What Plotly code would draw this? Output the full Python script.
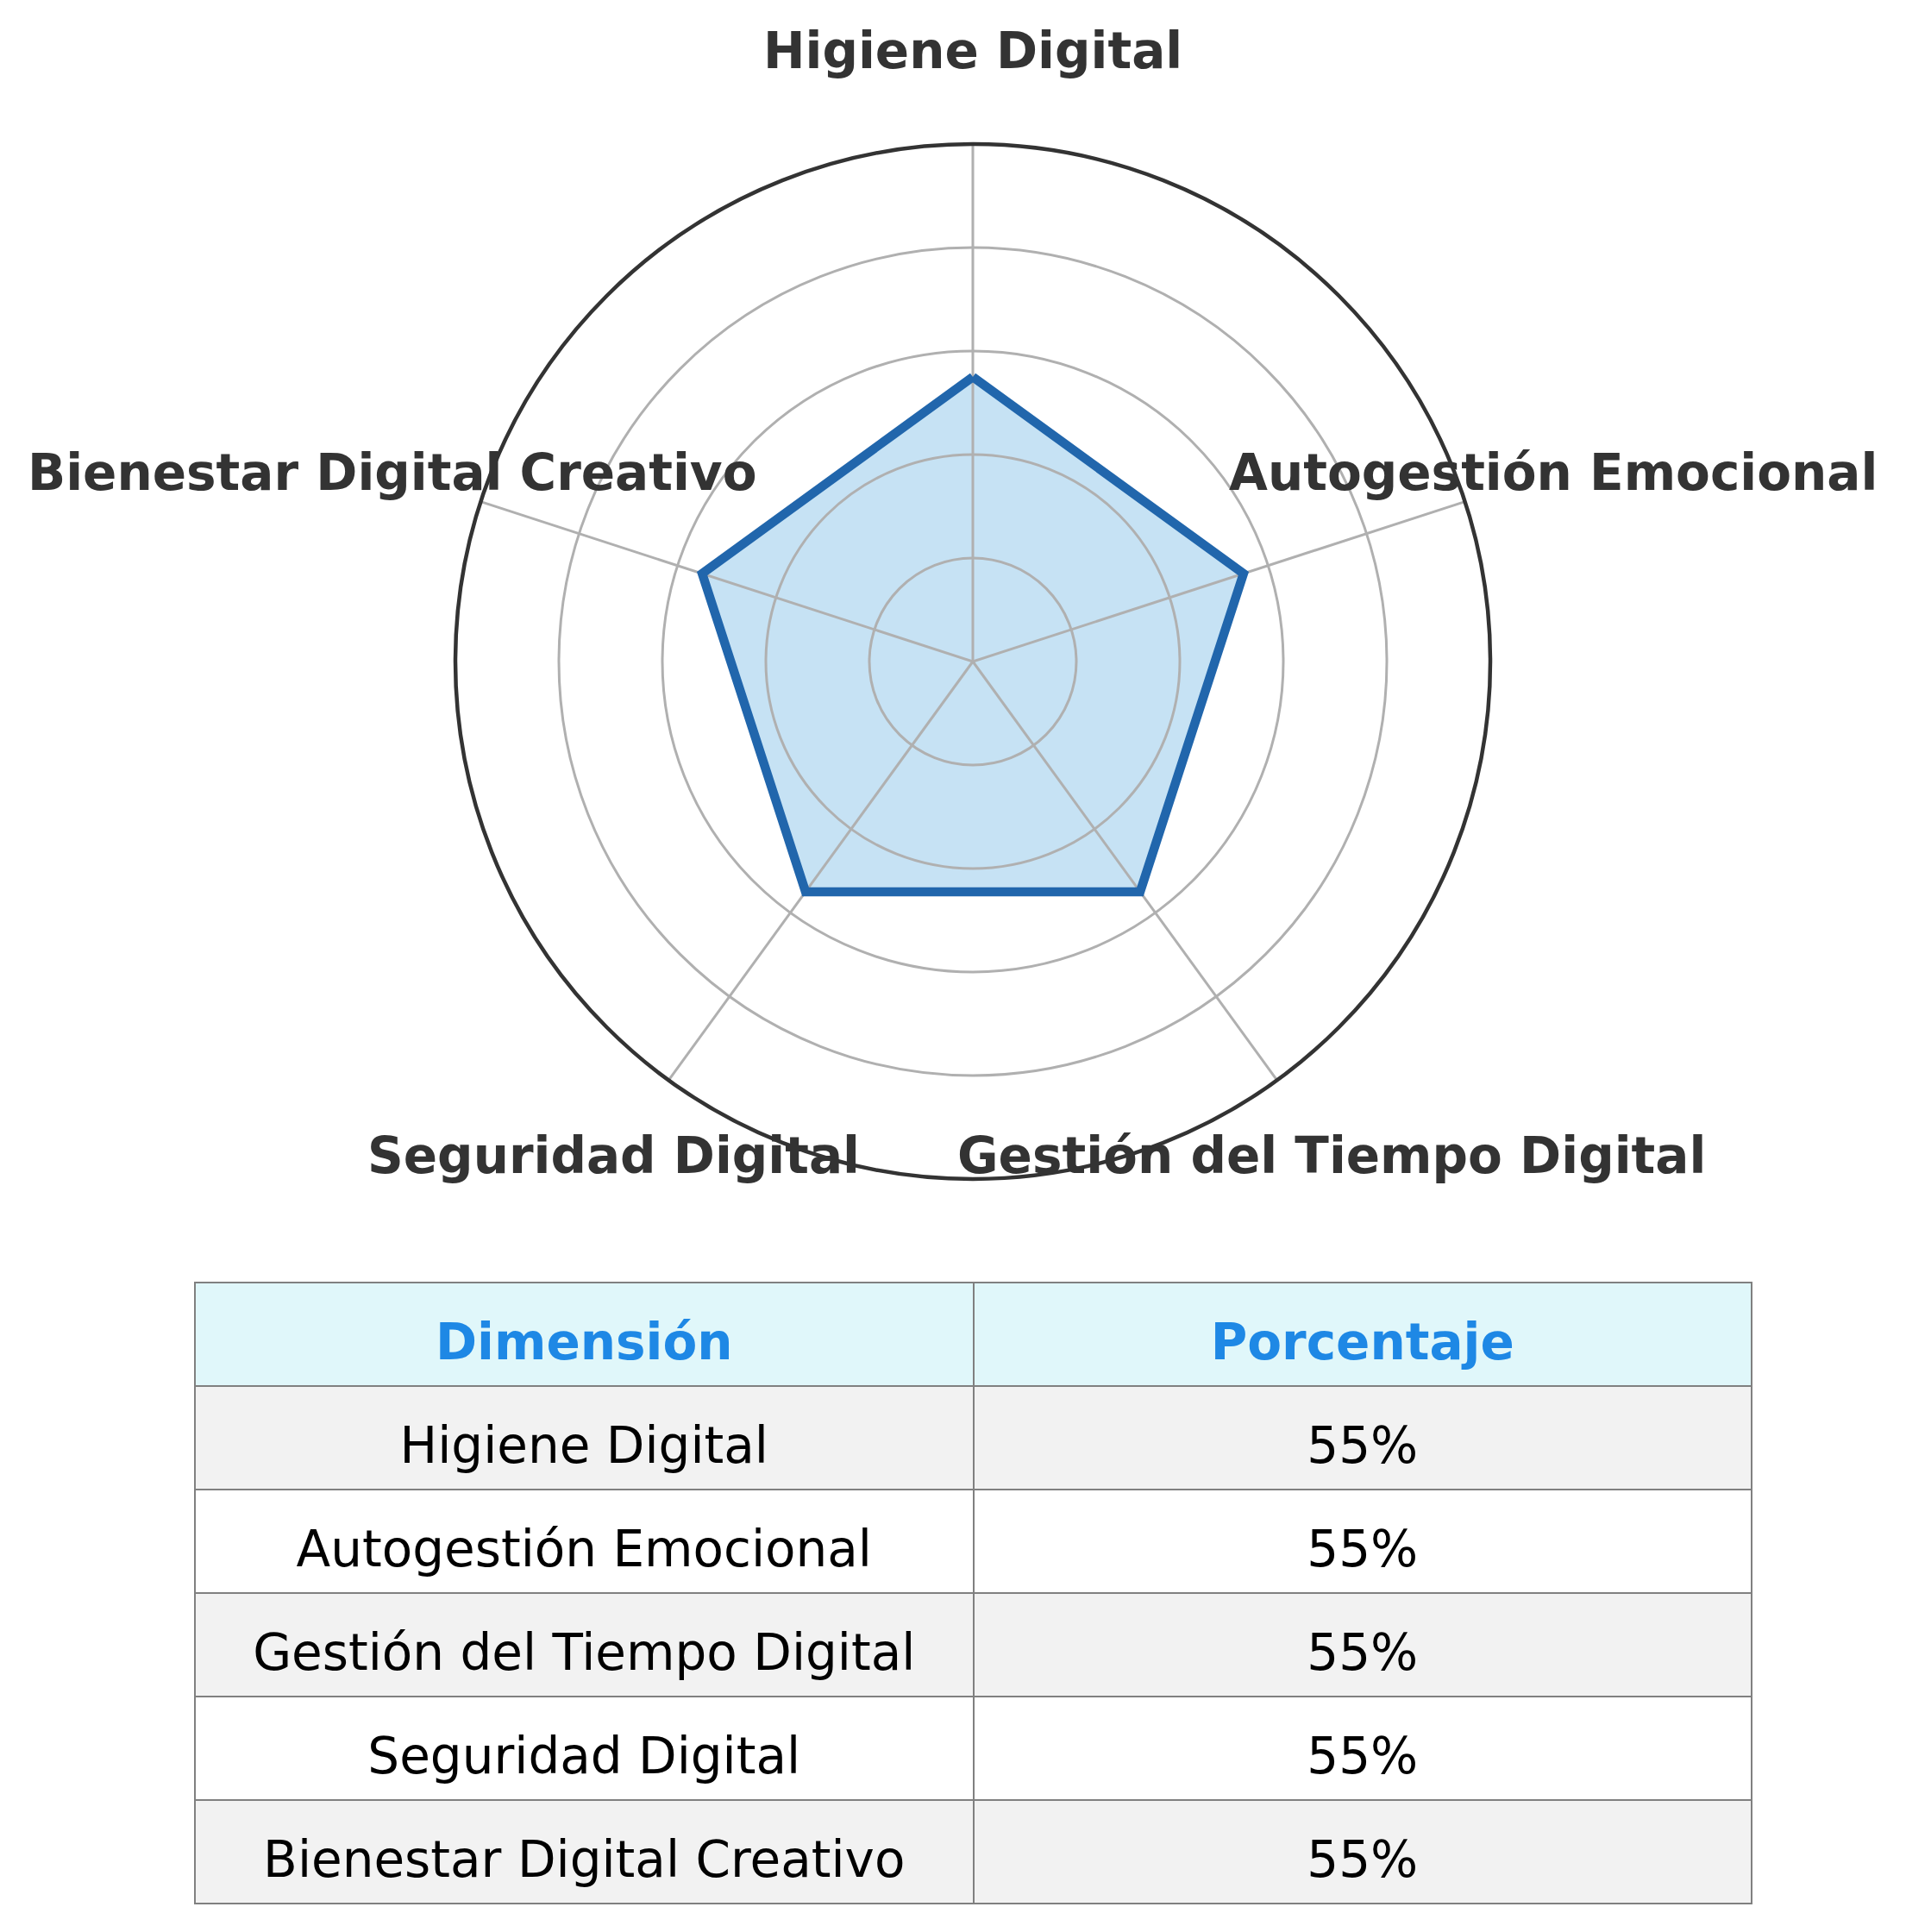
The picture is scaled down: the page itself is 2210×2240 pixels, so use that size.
import math
import plotly.graph_objects as go

# ---- data ----
categories = ["Higiene Digital", "Autogestión Emocional", "Gestión del Tiempo Digital",
              "Seguridad Digital", "Bienestar Digital Creativo"]
values = [55, 55, 55, 55, 55]
header_labels = ["Dimensión", "Porcentaje"]
pct_labels = [f"{v}%" for v in values]
grid_vals = [20, 40, 60, 80, 100]

W, H = 2210, 2240
FONT = "DejaVu Sans"
TXT = 58   # visible text size
BASE = 61  # base size: sets the line gap that pushes the visible line down to the cell centre

# polar placement (pixels)
cx, cy, R = 1128, 767, 600
label_r = 1.18
polar_domain = dict(x=[(cx - R) / W, (cx + R) / W], y=[1 - (cy + R) / H, 1 - (cy - R) / H])

fig = go.Figure()

# filled area (lower subplot, below the grid)
fig.add_trace(go.Scatterpolar(
    r=values + values[:1],
    theta=categories + categories[:1],
    mode="lines",
    line=dict(color="rgba(0,0,0,0)", width=0),
    fill="toself",
    fillcolor="#c6e2f4",
    hoverinfo="skip",
    showlegend=False,
    subplot="polar",
))

# outline (upper subplot, above the grid)
fig.add_trace(go.Scatterpolar(
    r=values + values[:1],
    theta=categories + categories[:1],
    mode="lines",
    line=dict(color="#2166ac", width=10.5),
    hoverinfo="skip",
    showlegend=False,
    subplot="polar2",
))


def cell_text(t):
    return (f'<span style="font-size:2px;color:rgba(0,0,0,0)">.</span><br>'
            f'<span style="font-size:{TXT}px">{t}</span>')


fig.add_trace(go.Table(
    domain=dict(x=[226 / W, 2031 / W], y=[1 - 2212 / H, 1 - 1487 / H]),
    columnwidth=[1, 1],
    header=dict(
        values=[cell_text(f"<b>{h}</b>") for h in header_labels],
        fill_color="#e0f7fa",
        line=dict(color="#808080", width=2),
        font=dict(family=FONT, size=BASE, color="#1e88e5"),
        align="center",
        height=120,
    ),
    cells=dict(
        values=[[cell_text(c) for c in categories], [cell_text(p) for p in pct_labels]],
        fill_color=[["#f2f2f2" if i % 2 == 0 else "#ffffff" for i in range(len(categories))]] * 2,
        line=dict(color="#808080", width=2),
        font=dict(family=FONT, size=BASE, color="#000000"),
        align="center",
        height=120,
    ),
))

# category labels placed around the circle
annotations = []
n = len(categories)
for i, cat in enumerate(categories):
    ang = math.radians(90 - i * 360 / n)
    px = cx + label_r * R * math.cos(ang)
    py = cy - label_r * R * math.sin(ang)
    annotations.append(dict(
        x=px / W, y=1 - py / H, xref="paper", yref="paper",
        text=f"<b>{cat}</b>", showarrow=False,
        xanchor="center", yanchor="middle",
        font=dict(family=FONT, size=TXT, color="#333333"),
    ))

common_angular = dict(rotation=90, direction="clockwise", showticklabels=False, ticks="",
                      categoryorder="array", categoryarray=categories)

fig.update_layout(
    width=W, height=H,
    margin=dict(l=0, r=0, t=0, b=0),
    paper_bgcolor="white",
    plot_bgcolor="white",
    font=dict(family=FONT),
    annotations=annotations,
    polar=dict(
        domain=polar_domain,
        bgcolor="white",
        radialaxis=dict(range=[0, 100], visible=False, showgrid=False),
        angularaxis=dict(**common_angular, showgrid=False, showline=False),
    ),
    polar2=dict(
        domain=polar_domain,
        bgcolor="rgba(0,0,0,0)",
        radialaxis=dict(
            range=[0, 100], tickvals=grid_vals,
            showticklabels=False, ticks="", showline=False,
            gridcolor="#b0b0b0", gridwidth=2.5,
        ),
        angularaxis=dict(
            **common_angular,
            showline=True, linecolor="#333333", linewidth=4.5,
            gridcolor="#b0b0b0", gridwidth=2.5,
        ),
    ),
)

fig.write_html("out.html")
